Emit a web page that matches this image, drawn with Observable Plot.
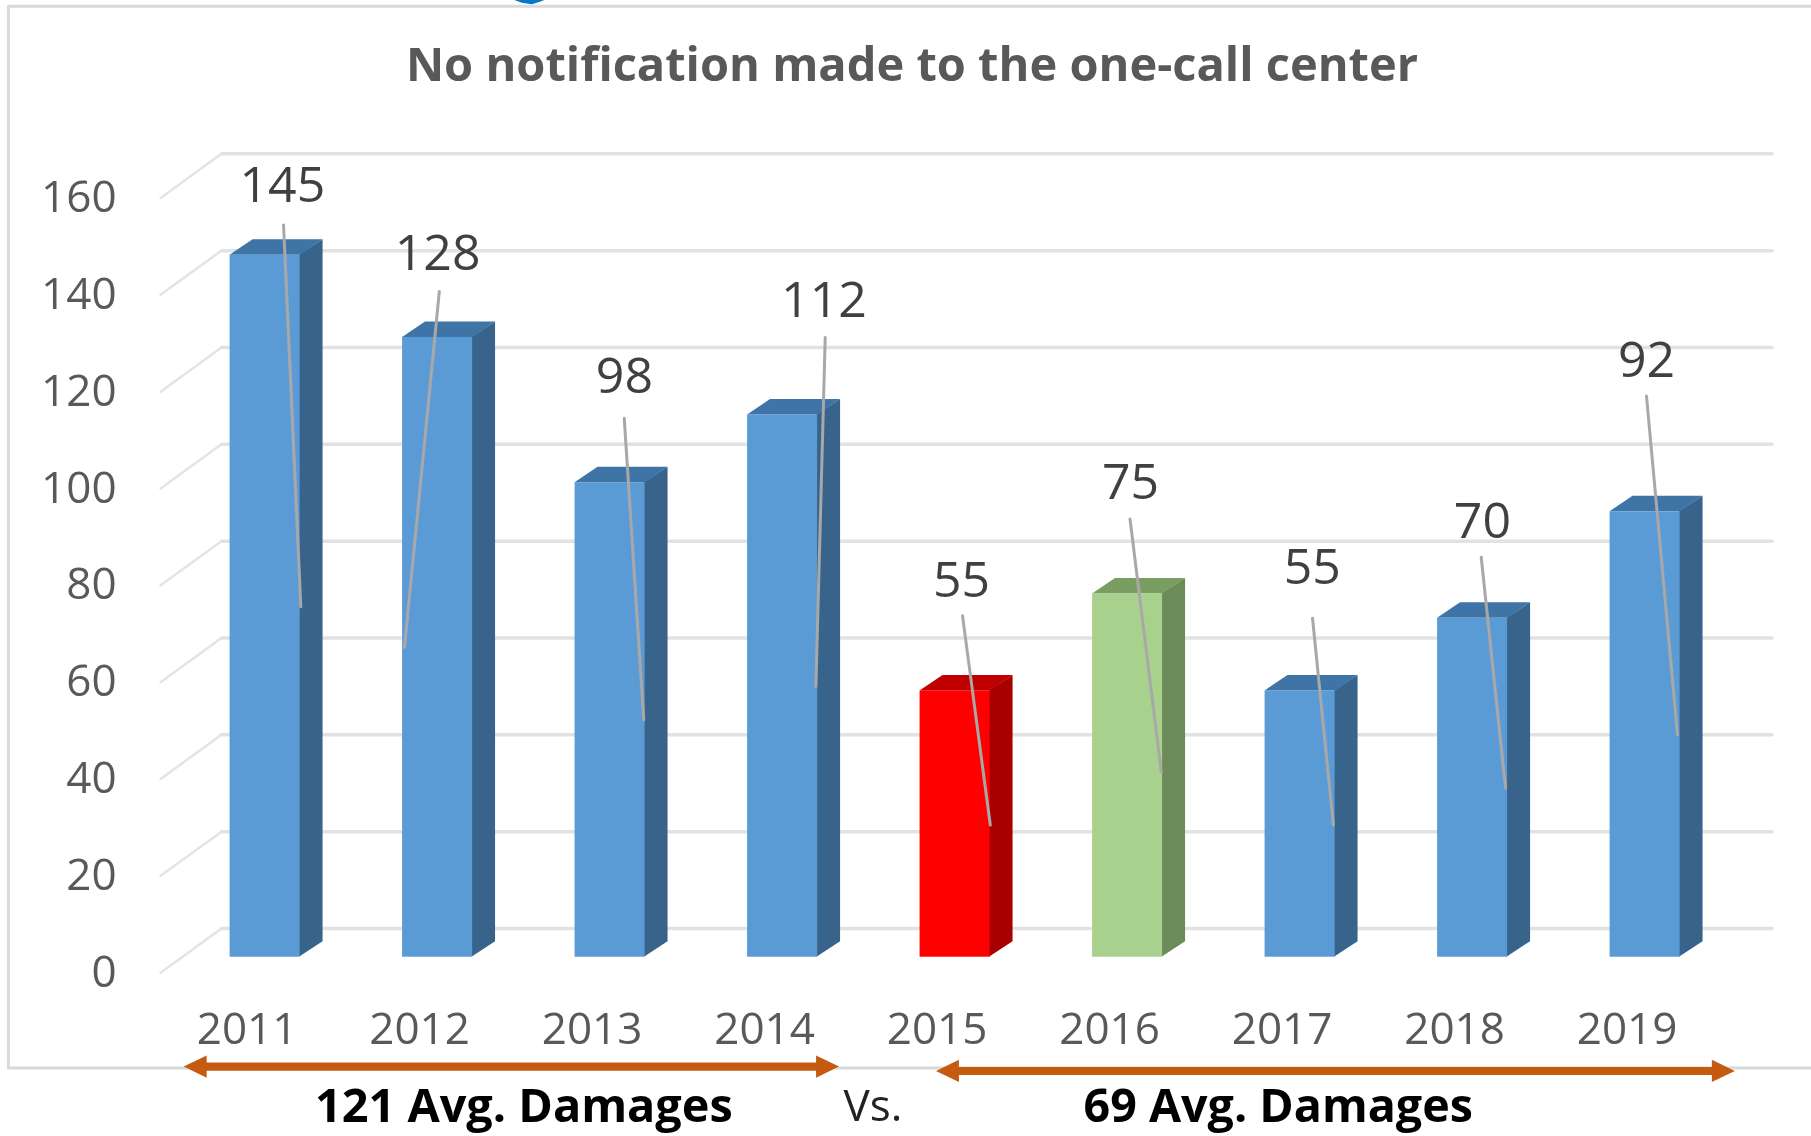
<!DOCTYPE html>
<html>
<head>
<meta charset="utf-8">
<style>html,body{margin:0;padding:0;background:#fff}svg{display:block;filter:blur(0.6px)}</style>
<script src="https://cdn.jsdelivr.net/npm/d3@7"></script>
<script src="https://cdn.jsdelivr.net/npm/@observablehq/plot@0.6"></script>
</head>
<body>
<script>
// Chart values
const years = [2011, 2012, 2013, 2014, 2015, 2016, 2017, 2018, 2019];
const damages = [145, 128, 98, 112, 55, 75, 55, 70, 92];
const yTicks = [0, 20, 40, 60, 80, 100, 120, 140, 160];
const chartTitle = "No notification made to the one-call center";
const leftNote = "121 Avg. Damages";
const rightNote = "69 Avg. Damages";
const middleNote = "Vs.";

// Label and leader-line placement, in data units relative to each bar
const labelShiftX = [.10, 0, .083, .24, .037, .017, .071, .057, .008];
const labelValue = [159.3, 145.3, 119.9, 135.6, 77.8, 98, 80.5, 90, 123.3];
const leaderStartX = [.107, .01, .082, .247, .043, .014, .072, .05, .008];
const leaderEndX = [.207, -.192, .195, .193, .204, .195, .193, .191, .188];
const leaderStartY = [151.2, 137.5, 111.3, 128, 70.5, 90.5, 70, 82.6, 115.9];
const leaderEndY = [72.4, 64, 49, 55.9, 27.3, 38.3, 27.3, 34.9, 45.9];

// Bar colours: front, side, top
const palette = {
  2015: ["#ff0000", "#a80000", "#c00000"],
  2016: ["#a9d18e", "#6b8b58", "#7a9e62"]
};
const blue = ["#5b9bd5", "#38648c", "#3f74a6"];
const shade = (year, i) => (palette[year] || blue)[i];

// Geometry of the false 3D, in data units
const halfWidth = 0.203, depthX = 0.133, depthY = 3.2;
const wallFrontX = 2010.394, wallBackX = 2010.747, wallEndX = 2019.736;
const floorFrontY = -3.2, wallLiftY = 5.93;

const bars = years.map((year, i) => ({year, value: damages[i]}));
const sides = bars.flatMap(({year, value}) => [
  {id: year, x: year + halfWidth - 0.004, y1: 0, y2: value, fill: shade(year, 1)},
  {id: year, x: year + halfWidth + depthX, y1: depthY, y2: value + depthY, fill: shade(year, 1)}
]);
const tops = bars.flatMap(({year, value}) => {
  const l = year - halfWidth, r = year + halfWidth, fill = shade(year, 2);
  return [
    {id: year, x: l, y1: value, y2: value, fill},
    {id: year, x: l + depthX, y1: value, y2: value + depthY, fill},
    {id: year, x: r, y1: value, y2: value + depthY, fill},
    {id: year, x: r + depthX, y1: value + depthY, y2: value + depthY, fill}
  ];
});
const wallLines = yTicks.flatMap((t) => [
  {t, x: wallFrontX, y: t + floorFrontY},
  {t, x: wallBackX, y: t + wallLiftY}
]);
const backLines = yTicks.flatMap((t) => [
  {t, x: wallBackX, y: t + wallLiftY},
  {t, x: wallEndX, y: t + wallLiftY}
]);
const leaders = bars.flatMap(({year}, i) => [
  {year, x: year + leaderStartX[i], y: leaderStartY[i]},
  {year, x: year + leaderEndX[i], y: leaderEndY[i]}
]);
const labels = bars.map(({year, value}, i) => ({x: year + labelShiftX[i], y: labelValue[i], value}));

// Double-headed arrows beneath the axis
const arrowSpans = [
  {id: "a", from: 2010.531, to: 2014.33, at: -22.7},
  {id: "b", from: 2014.892, to: 2019.523, at: -23.6}
];
const headX = 0.133, headY = 2.3, shaftY = 0.83;
const arrows = arrowSpans.flatMap(({id, from, to, at}) => [
  {id, x: from, y1: at, y2: at},
  {id, x: from + headX, y1: at - headY, y2: at + headY},
  {id, x: from + headX, y1: at - shaftY, y2: at + shaftY},
  {id, x: to - headX, y1: at - shaftY, y2: at + shaftY},
  {id, x: to - headX, y1: at - headY, y2: at + headY},
  {id, x: to, y1: at, y2: at}
]);
const frameLine = [
  {x: 2019.965, y: 196.4}, {x: 2009.512, y: 196.4},
  {x: 2009.512, y: -22.9}, {x: 2019.965, y: -22.9}
];
// The tail of a heading cropped by the top edge of the source picture
const croppedTail = [
  {x: 2012.44, y1: 197.7, y2: 197.7},
  {x: 2012.49, y1: 197.0, y2: 197.7},
  {x: 2012.55, y1: 196.7, y2: 197.7},
  {x: 2012.60, y1: 197.3, y2: 197.7},
  {x: 2012.63, y1: 197.7, y2: 197.7}
];

const font = "Open Sans";
const chart = Plot.plot({
  width: 1811, height: 1136,
  marginLeft: 92.1, marginRight: 80.15, marginTop: 182, marginBottom: 179.3,
  style: {fontFamily: font, background: "#fff"},
  x: {domain: [2010, 2019.5]},
  y: {domain: [0, 160]},
  color: {type: "identity"},
  marks: [
    Plot.line(frameLine, {x: "x", y: "y", stroke: "#d9d9d9", strokeWidth: 3}),
    Plot.areaY(croppedTail, {x: "x", y1: "y1", y2: "y2", fill: "#0a78c8"}),
    Plot.line(wallLines, {x: "x", y: "y", z: "t", stroke: "#e4e4e4", strokeWidth: 2.5}),
    Plot.line(backLines, {x: "x", y: "y", z: "t", stroke: "#e2e2e2", strokeWidth: 3.5}),
    Plot.areaY(sides, {x: "x", y1: "y1", y2: "y2", z: "id", fill: "fill"}),
    Plot.areaY(tops, {x: "x", y1: "y1", y2: "y2", z: "id", fill: "fill"}),
    Plot.rectY(bars, {x1: (d) => d.year - halfWidth, x2: (d) => d.year + halfWidth, y: "value", fill: (d) => shade(d.year, 0)}),
    Plot.line(leaders, {x: "x", y: "y", z: "year", stroke: "#a8a8a8", strokeWidth: 3}),
    Plot.axisY({ticks: yTicks, tickSize: 0, label: null, fontSize: 44, fill: "#595959", dx: 33, dy: 15.5, tickFormat: "d"}),
    Plot.axisX({ticks: years, tickSize: 0, label: null, fontSize: 44, fill: "#595959", dx: -18, dy: 47, tickFormat: "d"}),
    Plot.text(labels, {x: "x", y: "y", text: "value", fontSize: 50, dy: 0.5, fill: "#404040"}),
    Plot.text([chartTitle], {x: [2014.75], y: [184], text: (d) => d, fontSize: 47, fontWeight: 700, fill: "#595959"}),
    Plot.areaY(arrows, {x: "x", y1: "y1", y2: "y2", z: "id", fill: "#c55a11"}),
    Plot.text([leftNote], {x: [2012.5], y: [-31], text: (d) => d, fontSize: 46.8, fontWeight: 700, fill: "#000"}),
    Plot.text([middleNote], {x: [2014.524], y: [-31], text: (d) => d, fontSize: 44, fill: "#222"}),
    Plot.text([rightNote], {x: [2016.873], y: [-31], text: (d) => d, fontSize: 46.6, fontWeight: 700, fill: "#000"})
  ]
});
document.body.appendChild(chart);
</script>
</body>
</html>
